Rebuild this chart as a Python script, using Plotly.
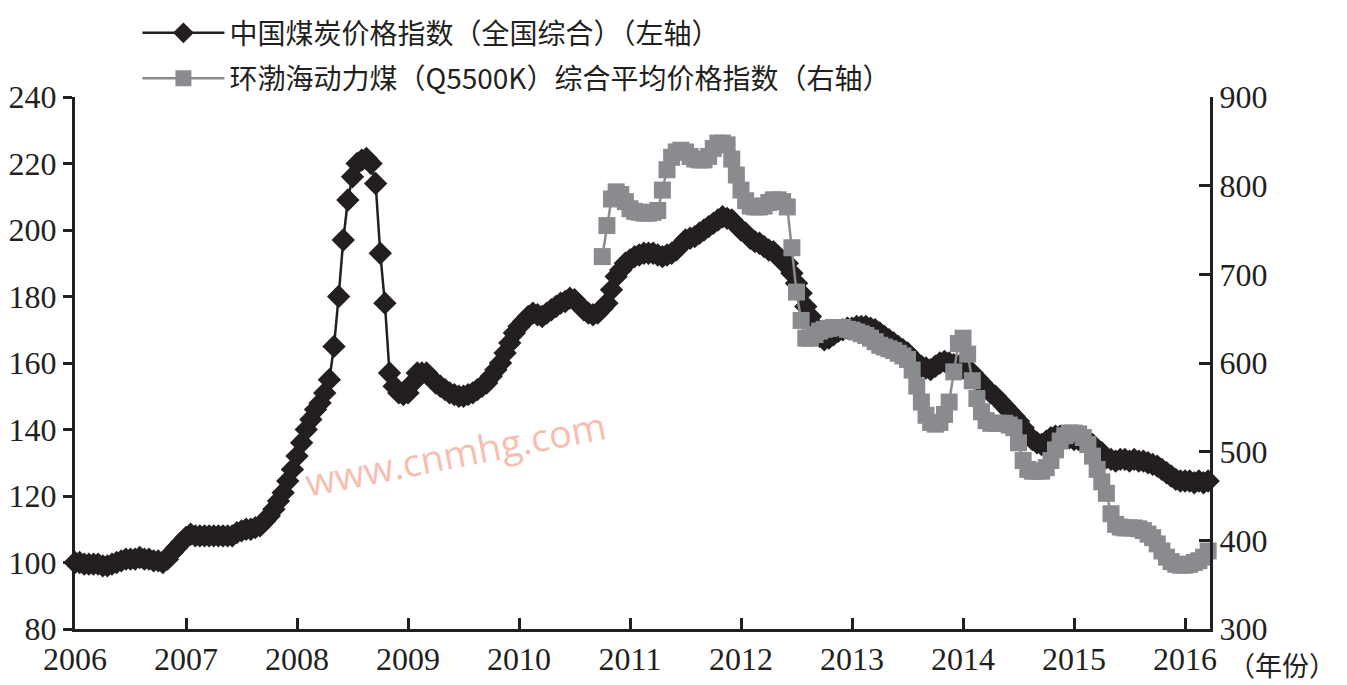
import plotly.graph_objects as go

# Half-month sampling: x = year + j/24
start_black = 2006.0
black_2006 = [100,100,99.5,99.5,99.5,99.5,99,99,99.5,100,100.5,101,101,101,101.5,101,101,100.5,100.5,100,101,103,104.5,106]
black_2007 = [107.5,108.5,108,108,108,108,108,108,108,108,108,109,109.5,110,110,110.5,111,112.5,114,116,118.5,121,124.5,128]
black_2008 = [132,136,140,143,146,148,151,155,165,180,197,209,216,220,221,221.5,220,214,193,178,157,153,151,150.5]
black_2009 = [151,154,157,157,157,155.5,154,153,152,151,150.5,150,150,150.5,151,152,153,154,156,158,160,163,166,169]
black_2010 = [171,172.5,174,175,174.5,174,175,176,177,178,178.5,179.5,179,177.5,176,175,174.5,175,176.5,178,182,186,188,190]
black_2011 = [191,192,192.5,193,193,193,192.5,192,192.5,193,194,195.5,197,197.5,198,199,200,201,202,203,204,203.5,203,201.5]
black_2012 = [200,199,197.5,196.5,196,195,194,193.5,192,190.5,190,187,184,181,177,174,171,168,167,167.5,168.5,169.5,170,170.5]
black_2013 = [170.5,171,171,171,170.5,170,169,168,167,166,165,164,163,161.5,160,159,158.5,158,159,160,160.5,160,159.5,159]
black_2014 = [158.5,158,157,155.5,154,152.5,151,150,148.5,147,145.5,144,142.5,140.5,138.5,137,136,135.5,136.5,137.5,138,138,138,137.5]
black_2015 = [137,137,137,136.5,135.5,134,133,131.5,131,130.5,131,131,130.5,131,130.5,130.5,130,129.5,129,128,127,126,125,124.5]
black_2016 = [124.5,124.5,124,124.5,124,124.5]

start_gray = 2010.75  # 2010 + 18/24
gray_2010 = [720,755,785,793,790,782]
gray_2011 = [774,771,770,769,769,770,772,795,818,832,838,840,838,833,830,829,829,833,842,848,848,846,830,812]
gray_2012 = [795,783,777,776,776,777,781,784,784,782,776,730,680,648,628,628,632,636,638,639,640,640,640,638]
gray_2013 = [637,635,633,631,628,624,620,618,616,614,611,608,604,592,574,556,541,533,531,533,542,556,590,622]
gray_2014 = [628,610,580,560,545,535,532,532,532,532,530,527,510,490,480,478,478,478,482,490,502,512,518,521]
gray_2015 = [521,520,516,508,495,480,466,453,430,418,415,414,414,414,413,411,407,403,396,388,381,376,373,372]
gray_2016 = [372,373,375,377,381,388]

year_ticks = [2006,2007,2008,2009,2010,2011,2012,2013,2014,2015,2016]
left_ticks = [80,100,120,140,160,180,200,220,240]
right_ticks = [300,400,500,600,700,800,900]

name_black = "中国煤炭价格指数（全国综合）（左轴）"
name_gray = "环渤海动力煤（Q5500K）综合平均价格指数（右轴）"
x_unit = "（年份）"
watermark = "www.cnmhg.com"

black = black_2006+black_2007+black_2008+black_2009+black_2010+black_2011+black_2012+black_2013+black_2014+black_2015+black_2016
gray = gray_2010+gray_2011+gray_2012+gray_2013+gray_2014+gray_2015+gray_2016
xb = [start_black + i/24 for i in range(len(black))]
xg = [start_gray + i/24 for i in range(len(gray))]

BLACK = "#231f20"
GRAY = "#8a8b8e"

fig = go.Figure()
fig.add_trace(go.Scatter(x=xb, y=black, name=name_black, mode="lines+markers", legendgroup="a",
                         line=dict(color=BLACK, width=2.5),
                         marker=dict(symbol="diamond", size=18, color=BLACK),
                         cliponaxis=False, yaxis="y"))
fig.add_trace(go.Scatter(x=xg, y=gray, name=name_gray, mode="lines+markers", legendgroup="b",
                         line=dict(color=GRAY, width=2.5),
                         marker=dict(symbol="square", size=17, color=GRAY),
                         cliponaxis=False, yaxis="y2"))

tickfont = dict(family="Liberation Serif, Times New Roman, serif", size=32, color=BLACK)

# page body has an 8px margin in the browser; size the figure to fit
fig.update_layout(
    width=1339, height=677,
    margin=dict(l=67, r=137, t=89, b=56, autoexpand=False),
    paper_bgcolor="white", plot_bgcolor="white",
    showlegend=True,
    legend=dict(x=0.055, y=1.167, xanchor="left", yanchor="top",
                font=dict(family="Noto Sans CJK SC", size=28, color=BLACK),
                itemwidth=82, bgcolor="rgba(0,0,0,0)", tracegroupgap=6),
    xaxis=dict(range=[2006, 2016.225], tickvals=year_ticks, ticktext=[str(t) for t in year_ticks],
               showgrid=False, zeroline=False, showline=True, linecolor=BLACK, linewidth=3,
               ticks="inside", ticklen=11, tickwidth=3, tickcolor=BLACK, tickfont=tickfont,
               automargin=False),
    yaxis=dict(range=[80, 240], tickvals=left_ticks, showgrid=False, zeroline=False,
               showline=True, linecolor=BLACK, linewidth=3, ticks="outside", ticklen=9,
               tickwidth=3, tickcolor=BLACK, tickfont=tickfont, automargin=False),
    yaxis2=dict(range=[300, 900], tickvals=right_ticks, overlaying="y", side="right",
                showgrid=False, zeroline=False, showline=True, linecolor=BLACK, linewidth=3,
                ticks="inside", ticklen=11, tickwidth=3, tickcolor=BLACK, tickfont=tickfont,
                automargin=False),
    annotations=[
        dict(text=x_unit, xref="paper", yref="paper", x=1.014, y=-0.067, xanchor="left", yanchor="middle",
             showarrow=False, font=dict(family="Noto Sans CJK SC", size=27, color=BLACK)),
        dict(text=watermark, xref="paper", yref="paper", x=0.335, y=0.33, xanchor="center", yanchor="middle",
             textangle=-11, showarrow=False,
             font=dict(family="Open Sans", size=38, color="rgba(246,172,155,0.8)")),
    ],
)

fig.write_html("out.html")
